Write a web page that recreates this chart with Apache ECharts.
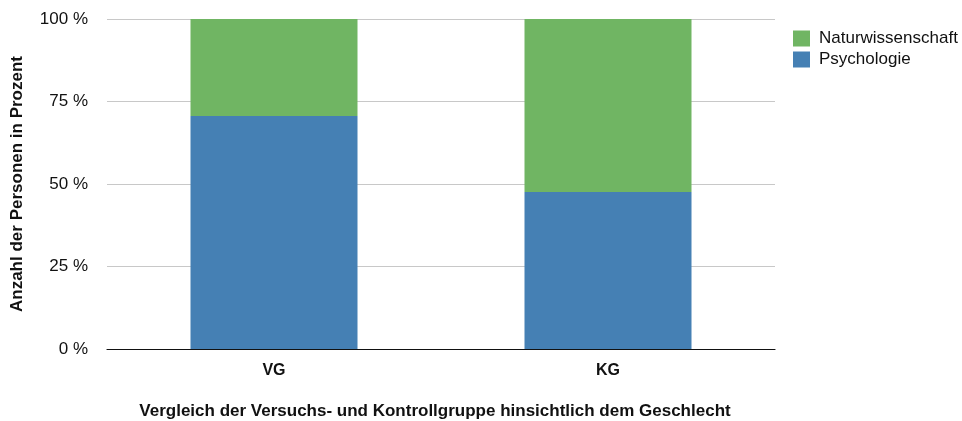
<!DOCTYPE html>
<html>
<head>
<meta charset="utf-8">
<script src="https://cdn.jsdelivr.net/npm/echarts@6/dist/echarts.min.js"></script>
<style>
html, body { margin: 0; padding: 0; background: #fff; }
#chart { width: 962px; height: 421px; }
</style>
</head>
<body>
<div id="chart"></div>
<script>
let categories = ['VG', 'KG']
let psychologie = [70.6, 47.6]
let naturwissenschaft = [29.4, 52.4]
let yTicks = [0, 25, 50, 75, 100]

let mychart = echarts.init(document.getElementById('chart'))
let font = 'Liberation Sans, Arial, sans-serif'
let options = {
    animation: false,
    textStyle: { fontFamily: font },
    grid: { left: 107, right: 187, top: 19, bottom: 72, outerBoundsMode: 'none', containLabel: false },
    legend: {
        data: ['Naturwissenschaft', 'Psychologie'],
        orient: 'vertical',
        left: 788,
        top: 25,
        itemWidth: 17,
        itemHeight: 16,
        itemGap: 4,
        icon: 'rect',
        textStyle: { fontSize: 17, color: '#111', fontFamily: font, padding: [0, 0, 0, 4] }
    },
    xAxis: {
        type: 'category',
        data: categories,
        name: 'Vergleich der Versuchs- und Kontrollgruppe hinsichtlich dem Geschlecht',
        nameLocation: 'middle',
        nameGap: 54,
        nameTextStyle: { fontSize: 17, fontWeight: 'bold', color: '#111', padding: [0, 12, 0, 0] },
        axisLine: { lineStyle: { color: '#111', width: 1.2 } },
        axisTick: { show: false },
        axisLabel: { fontSize: 16, fontWeight: 'bold', color: '#111', margin: 14 }
    },
    yAxis: {
        type: 'value',
        min: 0,
        max: 100,
        interval: 25,
        name: 'Anzahl der Personen in Prozent',
        nameLocation: 'middle',
        nameGap: 81,
        nameTextStyle: { fontSize: 17, fontWeight: 'bold', color: '#111' },
        axisLine: { show: false },
        axisTick: { show: false },
        splitLine: { lineStyle: { color: '#c8c8c8', width: 1 } },
        axisLabel: {
            fontSize: 17,
            color: '#111',
            margin: 19,
            formatter: v => yTicks.includes(v) ? v + ' %' : ''
        }
    },
    series: [
        {
            name: 'Psychologie',
            type: 'bar',
            stack: 'total',
            data: psychologie,
            barWidth: '50%',
            itemStyle: { color: '#4580b4' }
        },
        {
            name: 'Naturwissenschaft',
            type: 'bar',
            stack: 'total',
            data: naturwissenschaft,
            barWidth: '50%',
            itemStyle: { color: '#70b563' }
        }
    ]
}
mychart.setOption(options)
</script>
</body>
</html>
